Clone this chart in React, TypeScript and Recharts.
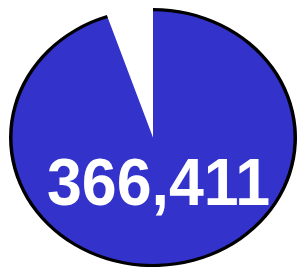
import React from "react";
import { PieChart, Pie, Cell } from "recharts";

const sliceNames = ["rest", "total"];
const sliceValues = [5.2, 94.8];
const totalLabel = "366,411";

const data = sliceNames.map((name, i) => ({ name, value: sliceValues[i] }));

const BLUE = "#3333CC";

export default function App() {
  const size = 306;
  const sy = 129.5 / 144;
  return (
    <div style={{ position: "absolute", left: 0, top: 0, width: 302, height: 271, background: "#fff", overflow: "hidden" }}>
      <div style={{ position: "absolute", left: 0, top: 0, transform: `scaleY(${sy})`, transformOrigin: "0 0" }}>
        <PieChart width={size} height={size} margin={{ top: 0, right: 0, bottom: 0, left: 0 }}>
          <Pie
            data={data}
            dataKey="value"
            cx={153}
            cy={153}
            startAngle={90}
            endAngle={450}
            innerRadius={0}
            outerRadius={142}
            stroke="none"
            isAnimationActive={false}
          >
            {data.map((d, i) => (
              <Cell key={d.name} fill={i === 0 ? "transparent" : BLUE} />
            ))}
          </Pie>
          <Pie
            data={data}
            dataKey="value"
            cx={153}
            cy={153}
            startAngle={90}
            endAngle={450}
            innerRadius={140.5}
            outerRadius={144}
            stroke="none"
            isAnimationActive={false}
          >
            {data.map((d, i) => (
              <Cell key={d.name} fill={i === 0 ? "transparent" : "#000"} />
            ))}
          </Pie>
        </PieChart>
      </div>
      <svg style={{ position: "absolute", left: 0, top: 0 }} width={302} height={271}>
        <text
          x={47}
          y={205}
          textLength={223}
          lengthAdjust="spacingAndGlyphs"
          fill="#fff"
          fontFamily="Liberation Sans, Arial, sans-serif"
          fontWeight="bold"
          fontSize={66}
        >
          {totalLabel}
        </text>
      </svg>
    </div>
  );
}
